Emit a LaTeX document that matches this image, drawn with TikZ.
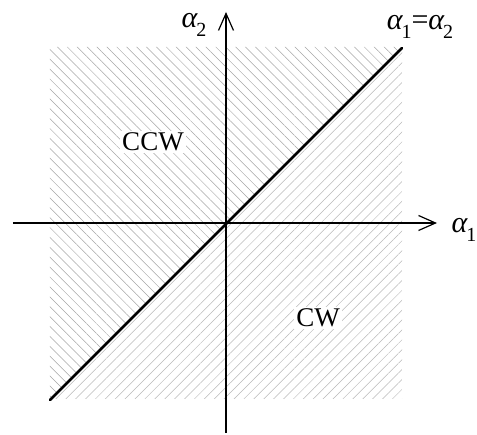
\documentclass[tikz,border=0pt]{standalone}
\usepackage{fontspec}
\setmainfont{Liberation Serif}
\usetikzlibrary{arrows.meta, patterns.meta}
\newcommand{\ang}[1]{{\itshape α}\kern-1pt\raisebox{-0.3em}{\fontsize{20}{20}\selectfont #1}}

\begin{document}
\begin{tikzpicture}[x=1pt, y=1pt,
    axis/.style={line width=1.2pt, -{Straight Barb[length=17pt, width=15pt, line width=1.2pt]}},
    bound/.style={line width=2.6pt, line cap=round},
    lbl/.style={font=\fontsize{27}{30}\selectfont, inner sep=2pt},
    albl/.style={font=\fontsize{30}{34}\selectfont, inner sep=1pt},
]
\useasboundingbox (-226,-212) rectangle (251,223);
% hatched half planes
\fill[pattern={Lines[angle=135, distance=7pt, line width=0.5pt]}, pattern color=black!35]
    (-176,-176) -- (-176,176) -- (176,176) -- cycle;
\fill[pattern={Lines[angle=45, distance=7pt, line width=0.5pt]}, pattern color=black!28]
    (-176,-176) -- (176,-176) -- (176,176) -- cycle;

\coordinate (o) at (0,0);
\coordinate (xl) at (-213,0);
\coordinate (xr) at (211,0);
\coordinate (yb) at (0,-210);
\coordinate (yt) at (0,211);
\coordinate (dl) at (-176,-177);
\coordinate (dr) at (176,175);

\draw[axis] (xl) -- (xr);
\draw[axis] (yb) -- (yt);
\draw[bound] (dl) -- (dr);

\node[albl] (a1) at (238,-7) {\ang{1}};
\node[albl] (a2) at (-32,198) {\ang{2}};
\node[albl] (eq) at (194,196) {\ang{1}=\ang{2}};
\node[lbl, fill=white] (ccw) at (-73,81) {CCW};
\node[lbl, fill=white] (cw) at (92,-95) {CW};
\end{tikzpicture}
\end{document}
